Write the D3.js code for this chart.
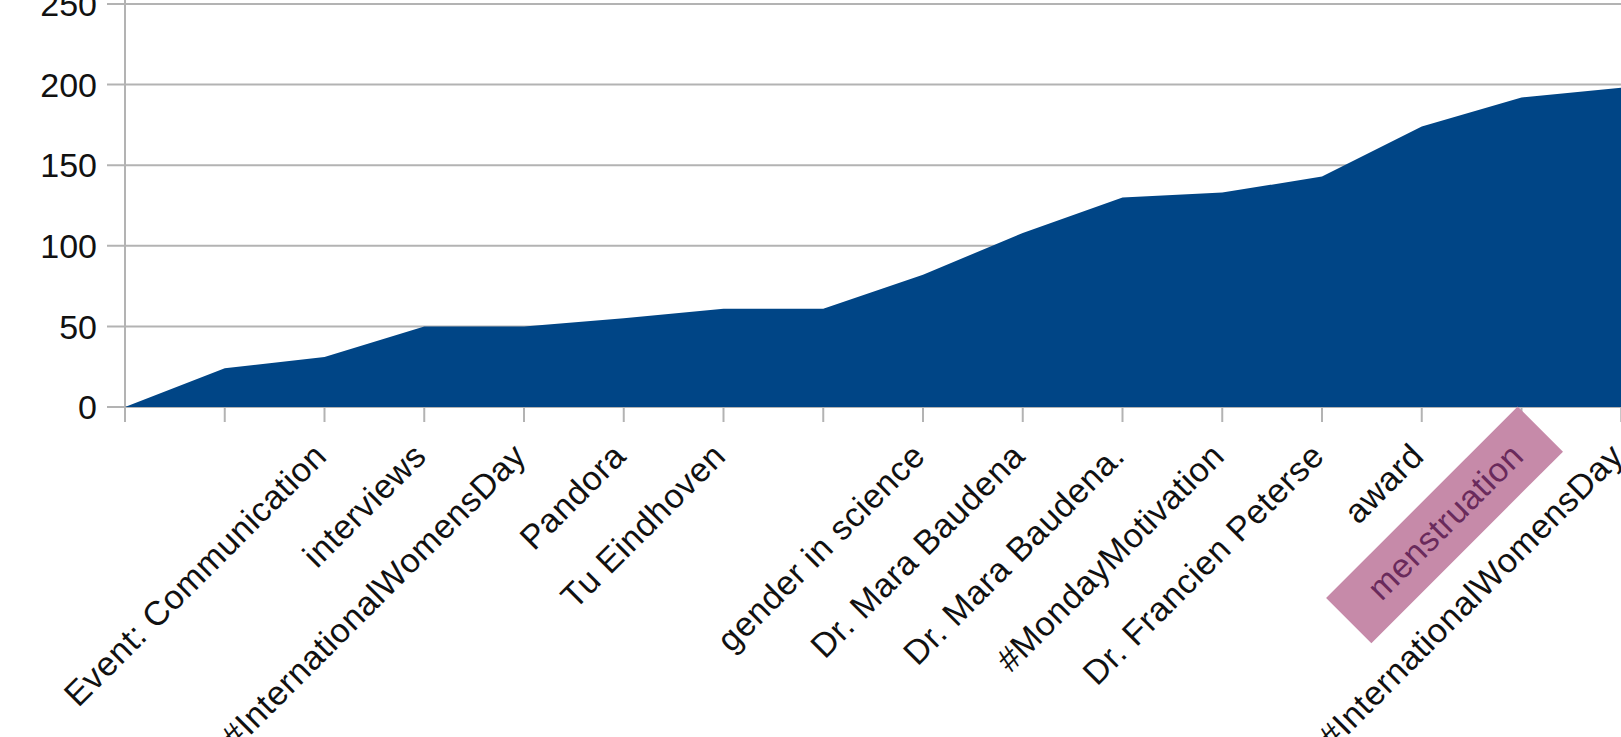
<!DOCTYPE html>
<html>
<head>
<meta charset="utf-8">
<script src="https://cdn.jsdelivr.net/npm/d3@7"></script>
<style>
  body { margin: 0; background: #fff; overflow: hidden; }
  text { font-family: "Liberation Sans", Arial, sans-serif; }
</style>
</head>
<body>
<script>
// cumulative count per category
var categories = ["", "", "Event: Communication", "interviews", "#InternationalWomensDay",
  "Pandora", "Tu Eindhoven", "", "gender in science", "Dr. Mara Baudena",
  "Dr. Mara Baudena.", "#MondayMotivation", "Dr. Francien Peterse", "award",
  "menstruation", "#InternationalWomensDay"];
var values = [0, 24, 31, 50, 50, 55, 61, 61, 82, 108, 130, 133, 143, 174, 192, 198];
var yTicks = [0, 50, 100, 150, 200, 250];
var highlighted = ["menstruation"];

var width = 1621, height = 737;
var left = 125, y0 = 407, yTop = 4;

var svg = d3.select("body").append("svg")
  .attr("width", width)
  .attr("height", height);

var x = d3.scalePoint()
  .domain(d3.range(categories.length))
  .range([left, left + 99.75 * (categories.length - 1)]);

var y = d3.scaleLinear()
  .domain([0, 250])
  .range([y0, yTop]);

// grid lines
svg.append("g").selectAll("line")
  .data(yTicks)
  .enter().append("line")
  .attr("x1", left - 18)
  .attr("x2", width)
  .attr("y1", function(d) { return y(d); })
  .attr("y2", function(d) { return y(d); })
  .style("stroke", "#b3b3b3")
  .style("stroke-width", 2);

// y axis line
svg.append("line")
  .attr("x1", left).attr("x2", left)
  .attr("y1", 0).attr("y2", y0 + 15)
  .style("stroke", "#b3b3b3")
  .style("stroke-width", 2);

// x ticks
svg.append("g").selectAll("line")
  .data(d3.range(categories.length))
  .enter().append("line")
  .attr("x1", function(d) { return x(d); })
  .attr("x2", function(d) { return x(d); })
  .attr("y1", y0)
  .attr("y2", y0 + 15)
  .style("stroke", "#b3b3b3")
  .style("stroke-width", 2);

// the area
var area = d3.area()
  .x(function(d, i) { return x(i); })
  .y0(y(0))
  .y1(function(d) { return y(d); });

svg.append("path")
  .datum(values)
  .attr("d", area)
  .style("fill", "#004586");

// y labels
svg.append("g").selectAll("text")
  .data(yTicks)
  .enter().append("text")
  .attr("x", 97)
  .attr("y", function(d) { return y(d); })
  .attr("dy", "0.36em")
  .attr("text-anchor", "end")
  .style("font-size", "34px")
  .style("fill", "#111")
  .text(function(d) { return d; });

// x labels, rotated
var labels = svg.append("g").selectAll("g")
  .data(categories)
  .enter().append("g")
  .attr("transform", function(d, i) {
    return "translate(" + (x(i) + 4) + "," + (y0 + 51) + ") rotate(-45)";
  });

labels.filter(function(d) { return highlighted.indexOf(d) >= 0; })
  .append("rect")
  .attr("x", -240)
  .attr("y", -42)
  .attr("width", 271)
  .attr("height", 64)
  .style("fill", "#c68aa9");

labels.append("text")
  .attr("text-anchor", "end")
  .style("font-size", "34px")
  .style("letter-spacing", "0.6px")
  .style("fill", function(d) { return highlighted.indexOf(d) >= 0 ? "#6a2a5c" : "#111"; })
  .text(function(d) { return d; });
</script>
</body>
</html>
